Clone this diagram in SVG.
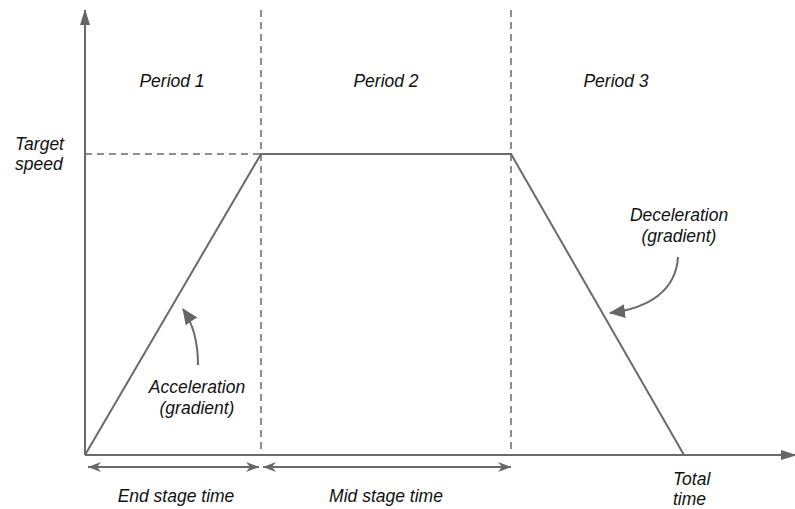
<svg xmlns="http://www.w3.org/2000/svg" width="795" height="509" viewBox="0 0 795 509">
<defs>
<marker id="big" markerWidth="16" markerHeight="10" viewBox="0 0 16 10" refX="15" refY="5" orient="auto" markerUnits="userSpaceOnUse">
<path d="M0,0 L16,5 L0,10 Z" fill="#666"/>
</marker>
<marker id="open" markerWidth="14" markerHeight="12" viewBox="0 0 14 12" refX="13" refY="6" orient="auto-start-reverse" markerUnits="userSpaceOnUse">
<path d="M0,1 L13,6 L0,11 L4,6 Z" fill="#666"/>
</marker>
<marker id="curv" markerWidth="16" markerHeight="14" viewBox="0 0 16 14" refX="15" refY="7" orient="auto" markerUnits="userSpaceOnUse">
<path d="M0,0 L16,7 L0,14 Z" fill="#666"/>
</marker>
</defs>
<style>
.ax{stroke:#6a6a6a;stroke-width:2;fill:none}
.ln{stroke:#6a6a6a;stroke-width:2;fill:none}
.ds{stroke:#6a6a6a;stroke-width:1.5;fill:none;stroke-dasharray:7,5}
.t{font-family:"Liberation Sans",Arial,sans-serif;font-style:italic;font-size:17.5px;fill:#111}
</style>
<rect width="795" height="509" fill="#fff"/>
<g id="connectors">
<line class="ax" x1="85" y1="455" x2="85" y2="10" marker-end="url(#big)"/>
<line class="ax" x1="85" y1="455" x2="796" y2="455" marker-end="url(#big)"/>
<line class="ds" x1="261" y1="10" x2="261" y2="455"/>
<line class="ds" x1="511" y1="10" x2="511" y2="455"/>
<line class="ds" x1="85" y1="154" x2="261" y2="154"/>
<polyline class="ln" points="85,455 261,154 511,154 684,455"/>
<line class="ln" x1="88" y1="467" x2="259" y2="467" marker-start="url(#open)" marker-end="url(#open)"/>
<line class="ln" x1="263" y1="467" x2="511" y2="467" marker-start="url(#open)" marker-end="url(#open)"/>
<path class="ln" d="M198,365 C198,345 194,325 183,309" marker-end="url(#curv)"/>
<path class="ln" d="M678,257 C676,290 650,308 610,313" marker-end="url(#curv)"/>
</g>
<g id="period1"><text class="t" x="172" y="87" text-anchor="middle">Period 1</text></g>
<g id="period2"><text class="t" x="386" y="87" text-anchor="middle">Period 2</text></g>
<g id="period3"><text class="t" x="616" y="87" text-anchor="middle">Period 3</text></g>
<g id="target"><text class="t" x="15" y="150">Target</text><text class="t" x="15" y="170">speed</text></g>
<g id="accel"><text class="t" x="197" y="393" text-anchor="middle">Acceleration</text><text class="t" x="197" y="414" text-anchor="middle">(gradient)</text></g>
<g id="decel"><text class="t" x="679" y="221" text-anchor="middle">Deceleration</text><text class="t" x="679" y="242" text-anchor="middle">(gradient)</text></g>
<g id="endstage"><text class="t" x="176" y="502" text-anchor="middle">End stage time</text></g>
<g id="midstage"><text class="t" x="386" y="502" text-anchor="middle">Mid stage time</text></g>
<g id="total"><text class="t" x="673" y="485">Total</text><text class="t" x="673" y="505">time</text></g>
</svg>
